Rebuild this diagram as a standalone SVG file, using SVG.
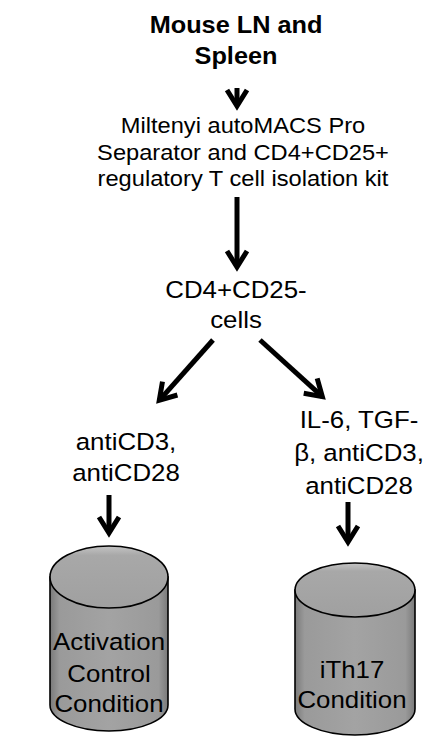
<svg xmlns="http://www.w3.org/2000/svg" width="424" height="737" viewBox="0 0 424 737">
<style>
text{font-family:"Liberation Sans",Arial,sans-serif;fill:#000;text-anchor:middle}
.t{font-size:23.5px}
.m{font-size:21.5px}
.b{font-size:23px;font-weight:bold}
.cyl{stroke:#000;stroke-width:1.6}
.arr{stroke:#000;stroke-width:5;fill:none;marker-end:url(#head)}
</style>
<defs>
<marker id="head" markerUnits="userSpaceOnUse" viewBox="-24 -16 30 32" markerWidth="30" markerHeight="32" refX="0" refY="0" orient="auto" overflow="visible">
<path d="M-16,-10 L0,0 L-16,10" fill="none" stroke="#000" stroke-width="5" stroke-linejoin="miter"/>
</marker>
<linearGradient id="body" x1="0" y1="0" x2="1" y2="0">
<stop offset="0" stop-color="#7a7a7a"/>
<stop offset="0.08" stop-color="#9a9a9a"/>
<stop offset="0.5" stop-color="#a3a3a3"/>
<stop offset="0.92" stop-color="#9a9a9a"/>
<stop offset="1" stop-color="#7a7a7a"/>
</linearGradient>
<linearGradient id="top" x1="0" y1="0" x2="0" y2="1">
<stop offset="0" stop-color="#c4c4c4"/>
<stop offset="0.15" stop-color="#a8a8a8"/>
<stop offset="1" stop-color="#a0a0a0"/>
</linearGradient>
</defs>

<g id="connectors">
<line class="arr" x1="237" y1="88" x2="237" y2="106"/>
<line class="arr" x1="237" y1="197" x2="237" y2="267"/>
<line class="arr" x1="213" y1="340" x2="159.3" y2="400.3"/>
<line class="arr" x1="260" y1="340" x2="322.3" y2="396.6"/>
<line class="arr" x1="109" y1="495" x2="109" y2="533"/>
<line class="arr" x1="348" y1="502" x2="348" y2="542"/>
</g>

<g id="node-source">
<g transform="translate(236,0) scale(1.1,1)">
<text class="b" x="0" y="33">Mouse LN and</text>
<text class="b" x="0" y="64">Spleen</text>
</g>
</g>

<g id="node-separator">
<g transform="translate(243,0) scale(1.1,1)">
<text class="m" x="0" y="133">Miltenyi autoMACS Pro</text>
<text class="m" x="0" y="160">Separator and CD4+CD25+</text>
<text class="m" x="0" y="186">regulatory T cell isolation kit</text>
</g>
</g>

<g id="node-cells">
<g transform="translate(236,0) scale(1.1,1)">
<text class="t" x="0" y="298">CD4+CD25-</text>
<text class="t" x="0" y="328">cells</text>
</g>
</g>

<g id="node-left-treatment">
<g transform="translate(126,0) scale(1.1,1)">
<text class="t" x="0" y="450">antiCD3,</text>
<text class="t" x="0" y="481">antiCD28</text>
</g>
</g>

<g id="node-right-treatment">
<g transform="translate(359,0) scale(1.1,1)">
<text class="t" x="0" y="428">IL-6, TGF-</text>
<text class="t" x="0" y="461">β, antiCD3,</text>
<text class="t" x="0" y="494">antiCD28</text>
</g>
</g>

<g id="node-activation">
<path class="cyl" fill="url(#body)" d="M50,577 L50,705 A59,26 0 0 0 168,705 L168,577 Z"/>
<ellipse class="cyl" fill="url(#top)" cx="109" cy="577" rx="59" ry="31"/>
<g transform="translate(109,0) scale(1.1,1)">
<text class="t" x="0" y="650">Activation</text>
<text class="t" x="0" y="682">Control</text>
<text class="t" x="0" y="712">Condition</text>
</g>
</g>

<g id="node-ith17">
<path class="cyl" fill="url(#body)" d="M295,590 L295,709 A60,26 0 0 0 415,709 L415,590 Z"/>
<ellipse class="cyl" fill="url(#top)" cx="355" cy="590" rx="60" ry="27"/>
<g transform="translate(352,0) scale(1.1,1)">
<text class="t" x="0" y="678">iTh17</text>
<text class="t" x="0" y="708">Condition</text>
</g>
</g>
</svg>
